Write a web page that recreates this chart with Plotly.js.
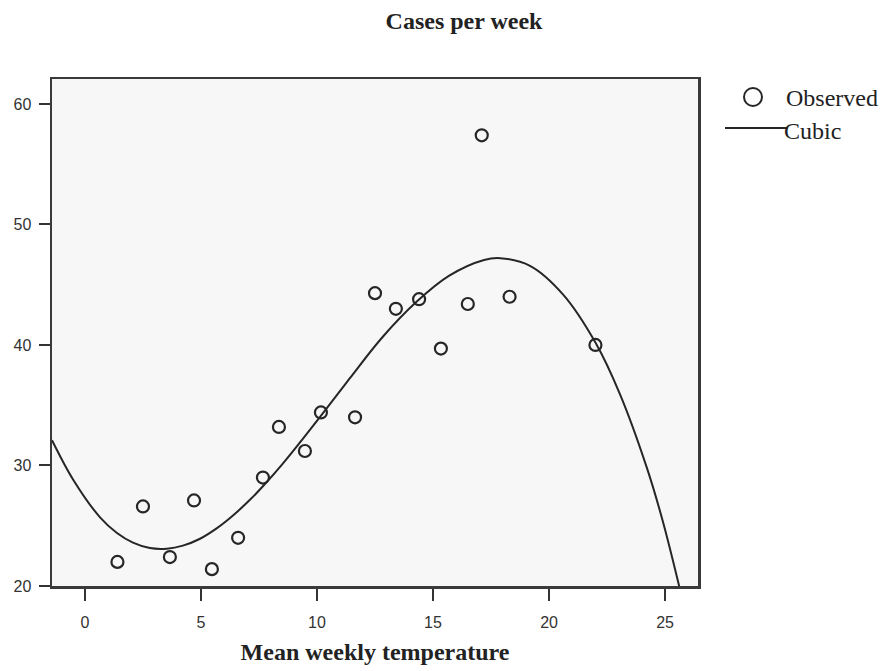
<!DOCTYPE html>
<html>
<head>
<meta charset="utf-8">
<script src="https://cdn.plot.ly/plotly-3.0.1.min.js"></script>
<style>html,body{margin:0;padding:0;background:#fff;}#chart{width:884px;height:671px;}</style>
</head>
<body>
<div id="chart"></div>
<script>
// Observed data (mean weekly temperature vs cases per week)
const obsTemp  = [1.4, 2.5, 3.66, 4.7, 5.47, 6.6, 7.67, 8.36, 9.48, 10.17, 11.64, 12.5, 13.4, 14.4, 15.34, 16.5, 17.1, 18.3, 22.0];
const obsCases = [22.0, 26.6, 22.4, 27.1, 21.4, 24.0, 29.0, 33.2, 31.2, 34.4, 34.0, 44.3, 43.0, 43.8, 39.7, 43.4, 57.4, 44.0, 40.0];

// Cubic fit curve
const cubicTemp  = [-1.42, -0.5, 0.65, 1.38, 2.07, 2.8, 3.53, 4.22, 4.96, 5.69, 6.38, 7.11, 7.67, 8.5, 9.3, 10.2, 11.4, 12.8, 14.3, 15.7, 17.2, 17.9, 19.2, 20.6, 22.0, 23.06, 24.2, 24.9, 25.62];
const cubicCases = [32.1, 28.8, 25.7, 24.4, 23.6, 23.15, 23.1, 23.35, 23.92, 24.8, 25.85, 27.15, 28.28, 30.1, 32.0, 34.2, 37.2, 40.6, 43.6, 45.75, 47.05, 47.2, 46.55, 44.2, 40.2, 35.9, 29.9, 25.4, 19.9];

const xTicks = [0, 5, 10, 15, 20, 25];
const yTicks = [20, 30, 40, 50, 60];
const legendNames = ['Observed', 'Cubic'];

const serif = 'Liberation Serif, Times New Roman, serif';
const sans = 'Liberation Sans, Arial, sans-serif';
const ink = '#262626';

const traces = [
  {
    x: obsTemp, y: obsCases, type: 'scatter', mode: 'markers', name: legendNames[0],
    marker: {symbol: 'circle-open', size: 12, color: ink, line: {width: 2.2, color: ink}},
    cliponaxis: false, showlegend: false
  },
  {
    x: cubicTemp, y: cubicCases, type: 'scatter', mode: 'lines', name: legendNames[1],
    line: {color: ink, width: 2, shape: 'spline', smoothing: 1}, showlegend: false
  }
];

const W = 884, H = 671;

const layout = {
  width: W, height: H,
  margin: {l: 52, r: 186, t: 79, b: 85},
  paper_bgcolor: '#ffffff',
  plot_bgcolor: '#f7f7f7',
  title: {
    text: '<b>Cases per week</b>',
    font: {family: serif, size: 24, color: '#222'},
    x: 464/W, xanchor: 'center', xref: 'container',
    y: 1 - 21/H, yanchor: 'middle', yref: 'container'
  },
  xaxis: {
    range: [-1.42, 26.42],
    tickvals: xTicks, ticktext: xTicks.map(String),
    ticks: 'outside', ticklen: 12, tickwidth: 2, tickcolor: '#333',
    ticklabelstandoff: 8,
    tickfont: {family: sans, size: 16, color: '#333'},
    showgrid: false, zeroline: false,
    showline: true, linecolor: '#3a3a3a', linewidth: 2.5, mirror: true,
    title: {text: '<b>Mean weekly temperature</b>', font: {family: serif, size: 24, color: '#222'}, standoff: 14}
  },
  yaxis: {
    range: [20, 62.07],
    tickvals: yTicks, ticktext: yTicks.map(String),
    ticks: 'outside', ticklen: 11, tickwidth: 2, tickcolor: '#333',
    ticklabelstandoff: 4,
    tickfont: {family: sans, size: 16, color: '#333'},
    showgrid: false, zeroline: false,
    showline: true, linecolor: '#3a3a3a', linewidth: 2.5, mirror: true
  },
  showlegend: false,
  shapes: [
    {type: 'circle', xref: 'paper', yref: 'paper', xsizemode: 'pixel', ysizemode: 'pixel',
     xanchor: (753 - 52) / 646, yanchor: (586 - 97) / 507,
     x0: -9, x1: 9, y0: -9, y1: 9, line: {color: ink, width: 2}},
    {type: 'line', xref: 'paper', yref: 'paper',
     x0: (725 - 52) / 646, x1: (788 - 52) / 646, y0: (586 - 128) / 507, y1: (586 - 128) / 507,
     line: {color: ink, width: 2}}
  ],
  annotations: [
    {text: legendNames[0], xref: 'paper', yref: 'paper', x: (784 - 52) / 646, y: (586 - 98) / 507,
     xanchor: 'left', yanchor: 'middle', showarrow: false, font: {family: serif, size: 24, color: '#222'}},
    {text: legendNames[1], xref: 'paper', yref: 'paper', x: (782 - 52) / 646, y: (586 - 131) / 507,
     xanchor: 'left', yanchor: 'middle', showarrow: false, font: {family: serif, size: 24, color: '#222'}}
  ]
};

Plotly.newPlot('chart', traces, layout, {displayModeBar: false, staticPlot: true});
</script>
</body>
</html>
